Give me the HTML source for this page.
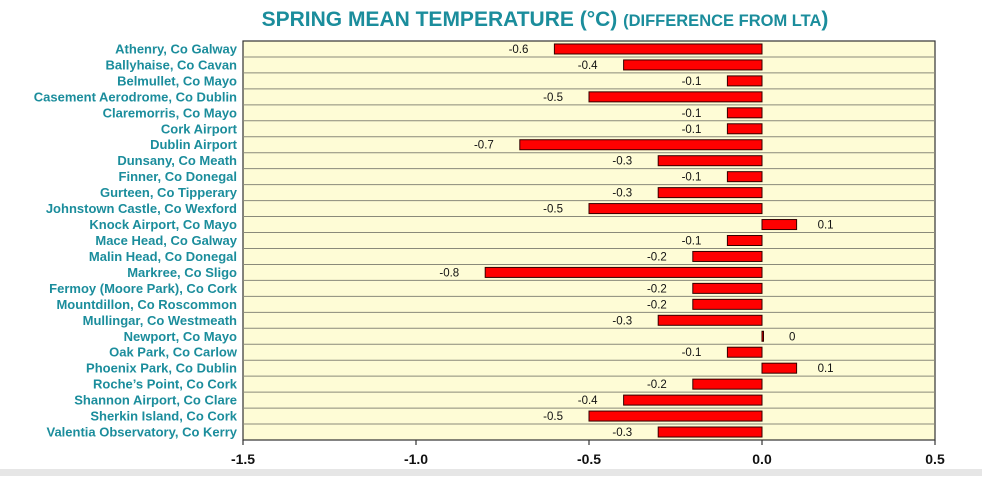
<!DOCTYPE html>
<html><head><meta charset="utf-8"><style>
body{margin:0;width:982px;height:476px;background:#fff;overflow:hidden;font-family:"Liberation Sans",Arial,sans-serif}
</style></head><body>
<svg id="c" width="982" height="476" xmlns="http://www.w3.org/2000/svg">
<rect x="0" y="469" width="982" height="7" fill="#e6e6e6"/>
<text x="545" y="26" text-anchor="middle" fill="#1b8d9c" font-weight="bold" font-size="21">SPRING MEAN TEMPERATURE (°C) <tspan font-size="16.5">(DIFFERENCE FROM LTA</tspan>)</text>
</svg>
<script>
const categories=["Athenry, Co Galway","Ballyhaise, Co Cavan","Belmullet, Co Mayo","Casement Aerodrome, Co Dublin","Claremorris, Co Mayo","Cork Airport","Dublin Airport","Dunsany, Co Meath","Finner, Co Donegal","Gurteen, Co Tipperary","Johnstown Castle, Co Wexford","Knock Airport, Co Mayo","Mace Head, Co Galway","Malin Head, Co Donegal","Markree, Co Sligo","Fermoy (Moore Park), Co Cork","Mountdillon, Co Roscommon","Mullingar, Co Westmeath","Newport, Co Mayo","Oak Park, Co Carlow","Phoenix Park, Co Dublin","Roche’s Point, Co Cork","Shannon Airport, Co Clare","Sherkin Island, Co Cork","Valentia Observatory, Co Kerry"];
const values=[-0.6,-0.4,-0.1,-0.5,-0.1,-0.1,-0.7,-0.3,-0.1,-0.3,-0.5,0.1,-0.1,-0.2,-0.8,-0.2,-0.2,-0.3,0,-0.1,0.1,-0.2,-0.4,-0.5,-0.3];
const ticks=[-1.5,-1.0,-0.5,0.0,0.5];
const tickLabels=["-1.5","-1.0","-0.5","0.0","0.5"];
const svg=document.getElementById('c');const NS="http://www.w3.org/2000/svg";
const L=243,R=935,T=41,B=440,xmin=-1.5,xmax=0.5;
const X=v=>L+(v-xmin)/(xmax-xmin)*(R-L);
const rh=(B-T)/categories.length;
const Y=i=>T+i*rh;
function mk(t,a,txt){const e=document.createElementNS(NS,t);for(const k in a)e.setAttribute(k,a[k]);if(txt!=null)e.textContent=txt;svg.appendChild(e);return e;}
let bg=mk('rect',{x:L,y:T,width:R-L,height:B-T,fill:'#fefcd6',stroke:'#333','stroke-width':1.2});


categories.forEach((c,i)=>{
 if(i>0){let g=mk('line',{x1:L,x2:R,y1:Y(i),y2:Y(i),stroke:'#8a8a7a','stroke-width':1});
 
 }
 const cy=Y(i)+rh/2;
 let lb=mk('text',{x:237,y:cy+4.5,'text-anchor':'end',fill:'#1b8d9c','font-weight':'bold','font-size':13},c);
 
 
 const v=values[i];const x0=X(0),x1=X(v);
 let b=mk('rect',{x:Math.min(x0,x1),y:cy-5,width:Math.max(Math.abs(x1-x0),1.5),height:10,fill:'#ff0000',stroke:'#300','stroke-width':1});
 
 
 let vl;
 if(v<0) vl=mk('text',{x:x1-26,y:cy+4,'text-anchor':'end','font-size':11.5,fill:'#111'},String(v));
 else vl=mk('text',{x:x1+(v>0?21:27),y:cy+4,'text-anchor':'start','font-size':11.5,fill:'#111'},String(v));
 
 
});
ticks.forEach((t,i)=>{
 let tk=mk('line',{x1:X(t),x2:X(t),y1:B,y2:B+5,stroke:'#333','stroke-width':1.2});
 
 
 let tl=mk('text',{x:X(t),y:B+24,'text-anchor':'middle','font-weight':'bold','font-size':14,fill:'#111'},tickLabels[i]);
 
 
});
</script>
</body></html>
